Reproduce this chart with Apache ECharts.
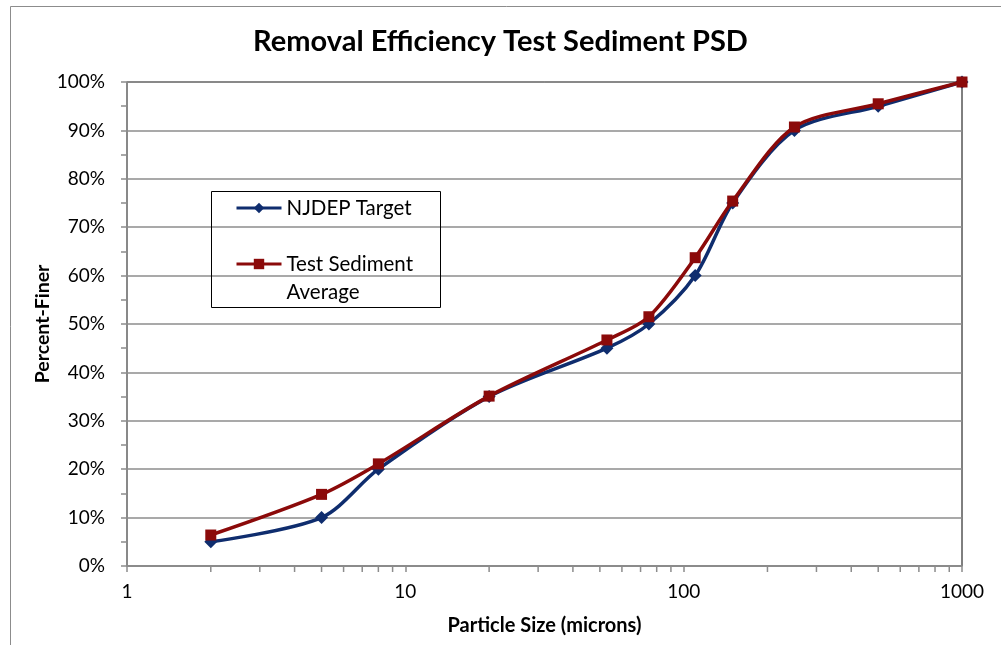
<!DOCTYPE html>
<html>
<head>
<meta charset="utf-8">
<script src="https://cdn.jsdelivr.net/npm/echarts@6/dist/echarts.min.js"></script>
<style>
  html, body { margin: 0; padding: 0; background: #fff; }
  #chart { width: 1001px; height: 645px; }
</style>
</head>
<body>
<div id="chart"></div>
<script>
// Particle sizes (microns) and cumulative percent finer
const particleSizes = [2, 5, 8, 20, 53, 75, 110, 150, 250, 500, 1000];
const njdepTarget = [5, 10, 20, 35, 45, 50, 60, 75, 90, 95, 100];
const testSedimentAvg = [6.4, 14.8, 21.1, 35.1, 46.7, 51.5, 63.7, 75.4, 90.7, 95.5, 100];
// Minor tick positions on the logarithmic size axis
const xMinorTicks = [2, 3, 4, 5, 6, 7, 8, 9, 20, 30, 40, 50, 60, 70, 80, 90, 200, 300, 400, 500, 600, 700, 800, 900];

const FONT = 'Lato, "Open Sans", sans-serif';
const pair = (xs, ys) => xs.map((x, i) => [x, ys[i]]);

const chart = echarts.init(document.getElementById('chart'), null, { renderer: 'canvas' });

chart.setOption({
  backgroundColor: '#fff',
  animation: false,
  textStyle: { fontFamily: FONT },
  title: {
    text: 'Removal Efficiency Test Sediment PSD',
    left: 'center',
    top: 27,
    padding: [0, 0, 0, 23],
    textStyle: { fontFamily: FONT, fontSize: 29, fontWeight: 'bold', color: '#000' }
  },
  grid: {
    left: 127, right: 39, top: 82, bottom: 79,
    show: true, borderColor: '#000', borderWidth: 1, backgroundColor: 'transparent'
  },
  legend: {
    left: 211, top: 194,
    orient: 'vertical',
    itemWidth: 45, itemHeight: 13,
    itemGap: 0,
    padding: [0, 0, 0, 24],
    lineStyle: { width: 3 },
    textStyle: { fontFamily: FONT, fontSize: 20.5, color: '#000', lineHeight: 28 },
    formatter: name => name === 'Test Sediment Average' ? ' \nTest Sediment\nAverage' : name,
    data: ['NJDEP Target', 'Test Sediment Average']
  },
  graphic: [
    { type: 'rect', shape: { x: 10.5, y: 6.5, width: 1100, height: 700 },
      style: { fill: 'none', stroke: '#8c8c8c', lineWidth: 1 }, silent: true, z: 0 },
    { type: 'rect', shape: { x: 211.5, y: 191.5, width: 229, height: 116 },
      style: { fill: 'none', stroke: '#000', lineWidth: 1 }, silent: true, z: 10 }
  ],
  xAxis: {
    type: 'log',
    logBase: 10,
    min: 1, max: 1000,
    name: 'Particle Size (microns)',
    nameLocation: 'middle',
    nameGap: 50,
    nameMoveOverlap: false,
    nameTextStyle: { fontFamily: FONT, fontSize: 20, fontWeight: 'bold', color: '#000' },
    axisLine: { show: true, lineStyle: { color: '#8c8c8c', width: 1.5 } },
    axisTick: { show: true, length: 6, lineStyle: { color: '#8c8c8c', width: 1.5 } },
    minorTick: { show: false },
    splitLine: { show: false },
    axisLabel: { fontFamily: FONT, fontSize: 19, color: '#000', margin: 16, formatter: v => String(v) }
  },
  yAxis: {
    type: 'value',
    min: 0, max: 100, interval: 10,
    name: 'Percent-Finer',
    nameLocation: 'middle',
    nameRotate: 90,
    nameGap: 74,
    nameMoveOverlap: false,
    nameTextStyle: { fontFamily: FONT, fontSize: 19.5, fontWeight: 'bold', color: '#000' },
    axisLine: { show: true, lineStyle: { color: '#8c8c8c', width: 1.5 } },
    axisTick: { show: true, length: 6, lineStyle: { color: '#8c8c8c', width: 1.5 } },
    minorTick: { show: true, splitNumber: 2, length: 6, lineStyle: { color: '#8c8c8c', width: 1.5 } },
    splitLine: { show: true, lineStyle: { color: '#8c8c8c', width: 1.5 } },
    axisLabel: { fontFamily: FONT, fontSize: 19, color: '#000', margin: 22, formatter: '{value}%' }
  },
  series: [
    {
      name: 'NJDEP Target',
      type: 'line',
      data: pair(particleSizes, njdepTarget),
      smooth: 0.3,
      symbol: 'diamond',
      symbolSize: 13,
      color: '#0f2d6e',
      lineStyle: { width: 3.5, color: '#0f2d6e' },
      itemStyle: { color: '#0f2d6e' },
      z: 3
    },
    {
      name: 'Test Sediment Average',
      type: 'line',
      data: pair(particleSizes, testSedimentAvg),
      smooth: 0.3,
      symbol: 'rect',
      symbolSize: 11,
      color: '#8b0a0a',
      lineStyle: { width: 3.5, color: '#8b0a0a' },
      itemStyle: { color: '#8b0a0a' },
      z: 4
    },
    {
      // minor tick marks for the log axis, positioned through the axis scale
      name: 'minorTicks',
      type: 'custom',
      silent: true,
      clip: false,
      data: xMinorTicks.map(v => [v, 0]),
      renderItem: (params, api) => {
        const p = api.coord([api.value(0), 0]);
        return {
          type: 'line',
          shape: { x1: p[0], y1: p[1], x2: p[0], y2: p[1] + 6 },
          style: { stroke: '#8c8c8c', lineWidth: 1.5 }
        };
      },
      z: 1
    }
  ]
});
</script>
</body>
</html>
